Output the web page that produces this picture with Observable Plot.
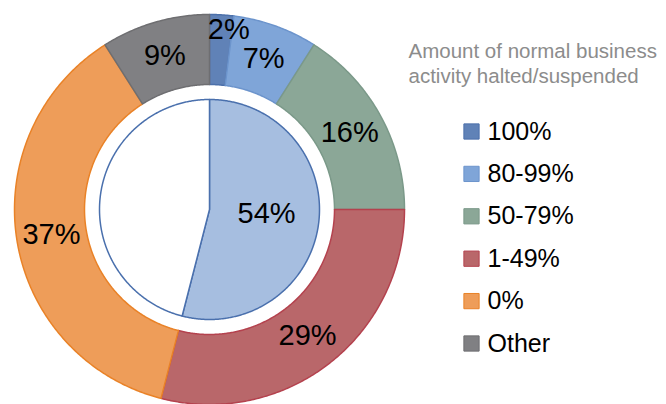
<!DOCTYPE html>
<html>
<head>
<meta charset="utf-8">
<script src="https://cdn.jsdelivr.net/npm/d3@7"></script>
<script src="https://cdn.jsdelivr.net/npm/@observablehq/plot@0.6"></script>
<style>
  html, body { margin: 0; padding: 0; background: #fff; }
  #chart svg { display: block; }
</style>
</head>
<body>
<div id="chart"></div>
<script>
// ---- data ----
const categories = ["100%", "80-99%", "50-79%", "1-49%", "0%", "Other"];
const outerValues = [2, 7, 16, 29, 37, 9];
const innerCategories = ["Halted", "Not halted"];
const innerValues = [54, 46];
const legendTitle = "Amount of normal business\nactivity halted/suspended";

// ---- styles ----
const fills   = ["#6082b7", "#7fa5d8", "#8ba797", "#b9676a", "#ee9d59", "#808083"];
const strokes = ["#4c70aa", "#6c94cc", "#7b9989", "#b4424e", "#e98227", "#6e6e71"];
const innerFills = ["#a6bee0", "#ffffff"];
const innerStroke = "#4a70ad";

const W = 666, H = 404;
const cx = 209, cy = 209;
const R_OUT = 195, R_IN = 125, R_PIE = 110;

function polar(r, deg) {
  const a = deg * Math.PI / 180;
  return [cx + r * Math.sin(a), cy - r * Math.cos(a)];
}
function sector(key, a0, a1, r0, r1, fill, stroke) {
  const pts = [];
  const n = Math.max(2, Math.ceil((a1 - a0) / 0.5));
  for (let i = 0; i <= n; i++) {
    const [x, y] = polar(r1, a0 + (a1 - a0) * i / n);
    pts.push({key, x, y, fill, stroke});
  }
  if (r0 === 0) {
    pts.push({key, x: cx, y: cy, fill, stroke});
  } else {
    for (let i = n; i >= 0; i--) {
      const [x, y] = polar(r0, a0 + (a1 - a0) * i / n);
      pts.push({key, x, y, fill, stroke});
    }
  }
  return pts;
}

// outer ring
const totalOuter = d3.sum(outerValues);
let acc = 0;
const ringPts = [];
const ringLabels = [];
outerValues.forEach((v, i) => {
  const a0 = acc / totalOuter * 360;
  acc += v;
  const a1 = acc / totalOuter * 360;
  ringPts.push(...sector(categories[i], a0, a1, R_IN, R_OUT, fills[i], strokes[i]));
  const small = v < 3;
  const mid = (a0 + a1) / 2 + (small ? 2.5 : 0);
  const [x, y] = polar(small ? 181 : (R_IN + R_OUT) / 2, mid);
  ringLabels.push({x, y, text: v + "%"});
});

// inner pie
const totalInner = d3.sum(innerValues);
let acc2 = 0;
const piePts = [];
const pieLabels = [];
innerValues.forEach((v, i) => {
  const a0 = acc2 / totalInner * 360;
  acc2 += v;
  const a1 = acc2 / totalInner * 360;
  piePts.push(...sector(innerCategories[i], a0, a1, 0, R_PIE, innerFills[i], innerStroke));
  if (i === 0) {
    const [x, y] = polar(R_PIE * 0.52, (a0 + a1) / 2 - 3);
    pieLabels.push({x, y, text: v + "%"});
  }
});

// legend rows
const legend = categories.map((c, i) => ({
  x: 471, tx: 487, y: 131 + i * 42.4, text: c, fill: fills[i], stroke: strokes[i]
}));

const font = "'Liberation Sans', Arial, sans-serif";

const plot = Plot.plot({
  width: W, height: H,
  margin: 0,
  x: {domain: [0, W], range: [0, W], axis: null},
  y: {domain: [0, H], range: [0, H], axis: null},
  color: {type: "identity"},
  style: {fontFamily: font, background: "#fff"},
  marks: [
    Plot.line(ringPts, {x: "x", y: "y", z: "key", fill: "fill", stroke: "stroke", strokeWidth: 1.5, curve: "linear-closed"}),
    Plot.line(piePts, {x: "x", y: "y", z: "key", fill: "fill", stroke: "stroke", strokeWidth: 1.5, curve: "linear-closed"}),
    Plot.text(ringLabels, {x: "x", y: "y", text: "text", fontSize: 29, fill: "#000", textAnchor: "middle", lineAnchor: "middle"}),
    Plot.text(pieLabels, {x: "x", y: "y", text: "text", fontSize: 29, fill: "#000", textAnchor: "middle", lineAnchor: "middle"}),
    Plot.text([legendTitle], {x: 408, y: 40, text: d => d, fontSize: 20.5, fill: "#8c8c8c", textAnchor: "start", lineAnchor: "top", lineHeight: 1.22, ariaLabel: "legend-title"}),
    Plot.dot(legend, {x: "x", y: "y", symbol: "square", r: 8.6, fill: "fill", stroke: "stroke", strokeWidth: 1}),
    Plot.text(legend, {x: "tx", y: "y", text: "text", fontSize: 25, fill: "#000", textAnchor: "start", lineAnchor: "middle", ariaLabel: "legend-text"})
  ]
});

const t = plot.querySelector('g[aria-label="legend-title"]');
if (t) t.querySelectorAll("text, tspan").forEach(el => { el.style.letterSpacing = "0.4px"; el.style.wordSpacing = "4px"; });
const lt = plot.querySelector('g[aria-label="legend-text"]');
if (lt) lt.querySelectorAll("text").forEach(el => { el.style.letterSpacing = "0.4px"; });

document.getElementById("chart").appendChild(plot);
</script>
</body>
</html>
